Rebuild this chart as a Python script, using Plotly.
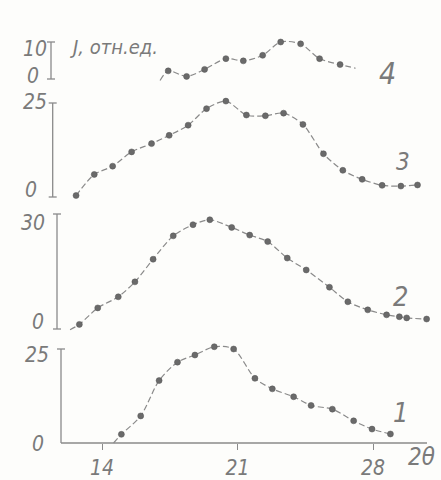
import plotly.graph_objects as go

# ---- data (2θ, degrees; intensity, rel. units) ----
p1_x = [15.0, 16.0, 16.95, 17.9, 18.8, 19.8, 20.8, 21.9, 22.8, 23.9, 24.8, 25.9, 27.0, 27.95, 28.9]
p1_y = [2.3, 7.2, 16.6, 21.5, 23.4, 25.6, 25.0, 17.2, 14.4, 12.3, 10.0, 9.0, 5.9, 3.7, 2.4]
p1_line_start = (14.6, 0.0)

p2_x = [12.83, 13.78, 14.84, 15.7, 16.64, 17.68, 18.7, 19.57, 20.7, 21.63, 22.56, 23.57, 24.55, 25.75, 26.7, 27.73, 28.7, 29.36, 29.74, 30.77]
p2_y = [1.2, 5.5, 8.4, 12.3, 18.2, 24.3, 27.2, 28.5, 26.5, 24.5, 22.8, 18.5, 15.4, 10.9, 7.1, 5.0, 3.7, 3.2, 2.9, 2.6]
p2_line_start = (12.35, -0.2)

p3_x = [12.66, 13.6, 14.55, 15.53, 16.56, 17.47, 18.45, 19.4, 20.4, 21.46, 22.44, 23.38, 24.38, 25.44, 26.44, 27.44, 28.47, 29.44, 30.3]
p3_y = [0.4, 6.0, 8.2, 12.0, 14.2, 16.4, 19.1, 23.5, 25.5, 21.8, 21.6, 22.3, 19.3, 11.5, 7.1, 4.7, 3.1, 2.9, 3.2]

p4_x = [17.42, 18.37, 19.3, 20.4, 21.3, 22.3, 23.23, 24.26, 25.24, 26.3]
p4_y = [2.2, 0.7, 2.6, 5.5, 4.9, 6.4, 10.0, 9.5, 5.5, 3.9]
p4_line_start = (17.0, -0.4)
p4_line_end = (27.1, 2.9)

x_ticks = [14, 21, 28]
x_tick_labels = ["14", "21", "28"]
panel_tops = [25, 30, 25, 10]
panel_labels = ["1", "2", "3", "4"]

W, H = 441, 480
PX_PER_DEG = 19.357
X0 = 14 - 102 / PX_PER_DEG
X1 = 14 + (W - 102) / PX_PER_DEG

# panel geometry (pixel positions of zero / top, axis x) and tick-label placement
panels = [
    dict(zero=443, top=349, ax=61, lab0=(38, 444), labT=(37, 355)),
    dict(zero=329, top=214, ax=57, lab0=(38, 322), labT=(33, 223)),
    dict(zero=197, top=103, ax=52.7, lab0=(31, 190), labT=(35, 102)),
    dict(zero=79, top=42, ax=51, lab0=(33, 76), labT=(35, 49)),
]

LINE_C = "#8a8a8a"
DOT_C = "#6a6a6a"
TXT_C = "#7a7a7a"
FONT = "Liberation Sans Narrow, DejaVu Sans Condensed, Liberation Sans"

fig = go.Figure()

def yrange(p, top):
    scale = (p["zero"] - p["top"]) / top
    return [(p["zero"] - H) / scale, p["zero"] / scale]

series = [
    ([p1_line_start[0]] + p1_x, [p1_line_start[1]] + p1_y, p1_x, p1_y),
    ([p2_line_start[0]] + p2_x, [p2_line_start[1]] + p2_y, p2_x, p2_y),
    (p3_x, p3_y, p3_x, p3_y),
    ([p4_line_start[0]] + p4_x + [p4_line_end[0]], [p4_line_start[1]] + p4_y + [p4_line_end[1]], p4_x, p4_y),
]

for i, (lx, ly, mx, my) in enumerate(series):
    yref = "y" if i == 0 else f"y{i+1}"
    fig.add_trace(go.Scatter(x=lx, y=ly, mode="lines", yaxis=yref,
                             line=dict(color=LINE_C, width=1.2, dash="6px,3px", shape="spline", smoothing=0.8),
                             hoverinfo="skip", showlegend=False))
    fig.add_trace(go.Scatter(x=mx, y=my, mode="markers", yaxis=yref, cliponaxis=False,
                             marker=dict(color=DOT_C, size=6, line=dict(color="#555", width=0.5)),
                             showlegend=False))

layout = dict(
    width=W, height=H, margin=dict(l=0, r=0, t=0, b=0),
    paper_bgcolor="#fdfdfb", plot_bgcolor="rgba(0,0,0,0)",
    showlegend=False,
    xaxis=dict(range=[X0, X1], domain=[0, 1], anchor="free", position=1 - 443 / H,
               showline=False, zeroline=False, showgrid=False,
               ticks="outside", ticklen=6, tickcolor=LINE_C, tickwidth=1.2,
               tickvals=x_ticks, ticktext=x_tick_labels,
               tickfont=dict(family=FONT, size=21, color=TXT_C, style="italic")),
)
shapes = []
annotations = []
for i, p in enumerate(panels):
    top = panel_tops[i]
    key = "yaxis" if i == 0 else f"yaxis{i+1}"
    yref = "y" if i == 0 else f"y{i+1}"
    ax = dict(range=yrange(p, top), domain=[0, 1], anchor="free", position=p["ax"] / W,
              showline=False, zeroline=False, showgrid=False, ticks="",
              showticklabels=False)
    if i > 0:
        ax["overlaying"] = "y"
    layout[key] = ax
    axp = p["ax"] / W
    shapes.append(dict(type="line", xref="paper", yref=yref, x0=axp, x1=axp, y0=0, y1=top,
                       line=dict(color=LINE_C, width=1.3)))
    shapes.append(dict(type="line", xref="paper", yref=yref, x0=(p["ax"] - 4) / W, x1=(p["ax"] + 4) / W,
                       y0=top, y1=top, line=dict(color=LINE_C, width=1.3)))
    if i > 0:
        shapes.append(dict(type="line", xref="paper", yref=yref, x0=(p["ax"] - 4) / W, x1=(p["ax"] + 4) / W,
                           y0=0, y1=0, line=dict(color=LINE_C, width=1.3)))
    # tick labels (0 and top)
    for val, (cx, cy), ty in ((0, p["lab0"], p["zero"]), (top, p["labT"], p["top"])):
        annotations.append(dict(x=cx / W, xref="paper", y=val, yref=yref, yshift=ty - cy,
                                xanchor="center", yanchor="middle", text=str(val), showarrow=False,
                                font=dict(family=FONT, size=21, color=TXT_C, style="italic")))

# bottom baseline of panel 1
shapes.append(dict(type="line", xref="paper", yref="y", x0=61 / W, x1=427 / W, y0=0, y1=0,
                   line=dict(color=LINE_C, width=1.3)))
layout["shapes"] = shapes

annotations += [
    dict(x=28.77, y=1.6, yref="y4", xref="x", text=panel_labels[3], showarrow=False,
         font=dict(family=FONT, size=30, color=TXT_C, style="italic")),
    dict(x=29.55, y=9.3, yref="y3", xref="x", text=panel_labels[2], showarrow=False,
         font=dict(family=FONT, size=24, color=TXT_C, style="italic")),
    dict(x=29.4, y=8.6, yref="y2", xref="x", text=panel_labels[1], showarrow=False,
         font=dict(family=FONT, size=27, color=TXT_C, style="italic")),
    dict(x=29.4, y=8.2, yref="y", xref="x", text=panel_labels[0], showarrow=False,
         font=dict(family=FONT, size=27, color=TXT_C, style="italic")),
    dict(x=68 / W, y=1 - 47 / H, xref="paper", yref="paper", xanchor="left", yanchor="middle",
         text="J, отн.ед.", showarrow=False,
         font=dict(family=FONT, size=20, color=TXT_C, style="italic")),
    dict(x=421 / W, y=1 - 457 / H, xref="paper", yref="paper", xanchor="center", yanchor="middle",
         text="2θ", showarrow=False,
         font=dict(family=FONT, size=24, color=TXT_C, style="italic")),
]
layout["annotations"] = annotations

fig.update_layout(**layout)
fig.write_html("out.html")
